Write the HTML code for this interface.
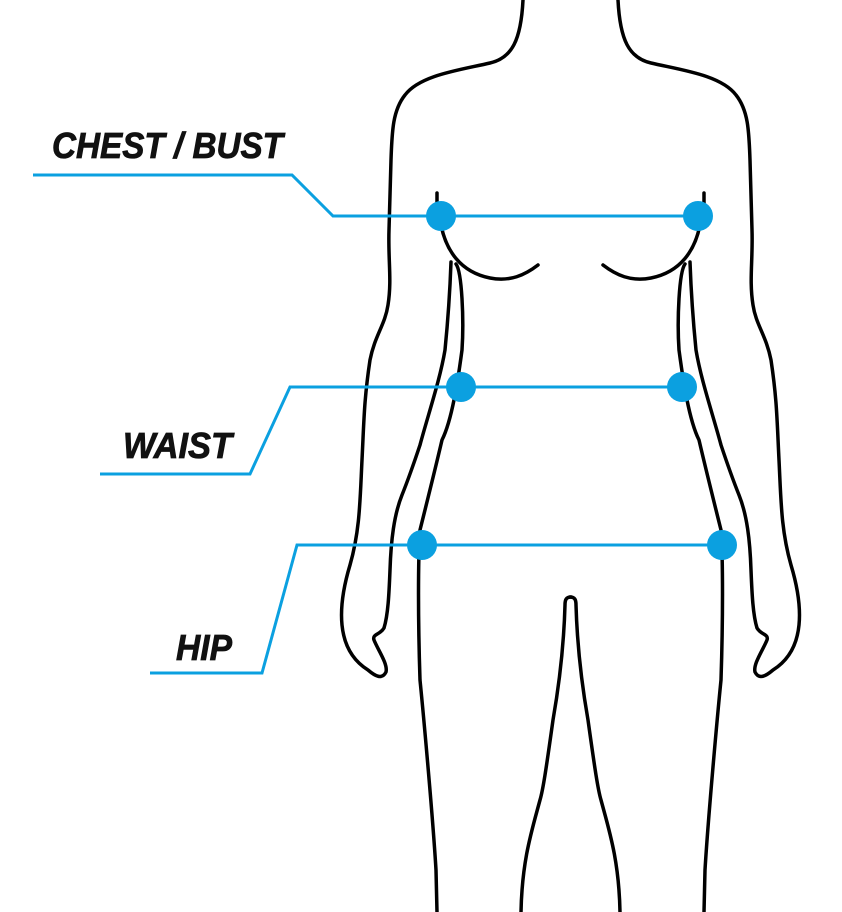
<!DOCTYPE html>
<html><head><meta charset="utf-8"><style>
html,body{margin:0;padding:0;background:#fff;}
svg{display:block;}
</style></head><body>
<svg width="842" height="912" viewBox="0 0 842 912" xmlns="http://www.w3.org/2000/svg">
<g fill="none" stroke="#000" stroke-width="3.5" stroke-linecap="round" stroke-linejoin="round">
  <g id="half">
    <path d="M523,0 C521,40 512,58 490,63 C460,70 420,75 405,95 C393,110 392,130 391,160 L389,230 C388,260 392,280 388,305 C385,325 375,335 370,360 C364,400 364,420 362,460 C360,500 360,530 350,565 C344,585 340,605 342,625 C344,645 352,660 368,670 C375,676 382,680 386,672 C388,664 378,650 374,640 C372,634 380,635 384,628 C388,615 389,595 390,570 C391,540 394,515 402,495 C410,475 415,460 420,445 C428,415 440,380 445,350 C448,320 450,290 451,262"/>
    <path d="M456,264 C462,272 464,320 462,350 C458,380 452,420 442,440 C435,470 425,510 420,530 C418,560 418,620 420,680 C424,720 433,820 436,870 L437,912"/>
    <path d="M437,193 L437,205 M441,225 C446,250 460,272 490,278 C510,282 525,275 538,265"/>
    <path d="M571,597 C566,597 565,600 565,605 C564,640 560,680 553,720 C546,770 543,790 540,800 C532,830 522,860 521,912"/>
  </g>
  <use href="#half" transform="translate(1141,0) scale(-1,1)"/>
</g>
<g stroke="#0ba0e0" stroke-width="3" fill="none">
  <polyline points="33,175 292,175 333,216 698,216"/>
  <polyline points="100,474 250,474 290,387 682,387"/>
  <polyline points="150,673 262,673 297,545 722,545"/>
</g>
<g fill="#0ba0e0">
  <circle cx="441" cy="216" r="15"/><circle cx="698" cy="216" r="15"/>
  <circle cx="461" cy="387" r="15"/><circle cx="682" cy="387" r="15"/>
  <circle cx="422" cy="545" r="15"/><circle cx="722" cy="545" r="15"/>
</g>
<g font-family="'Liberation Sans',sans-serif" font-weight="bold" font-style="italic" font-size="36" fill="#111" stroke="#111" stroke-width="0.8">
  <text x="52" y="158" textLength="231" lengthAdjust="spacingAndGlyphs">CHEST / BUST</text>
  <text x="123" y="458" textLength="109" lengthAdjust="spacingAndGlyphs">WAIST</text>
  <text x="176" y="660" textLength="56" lengthAdjust="spacingAndGlyphs">HIP</text>
</g>
</svg>
</body></html>
